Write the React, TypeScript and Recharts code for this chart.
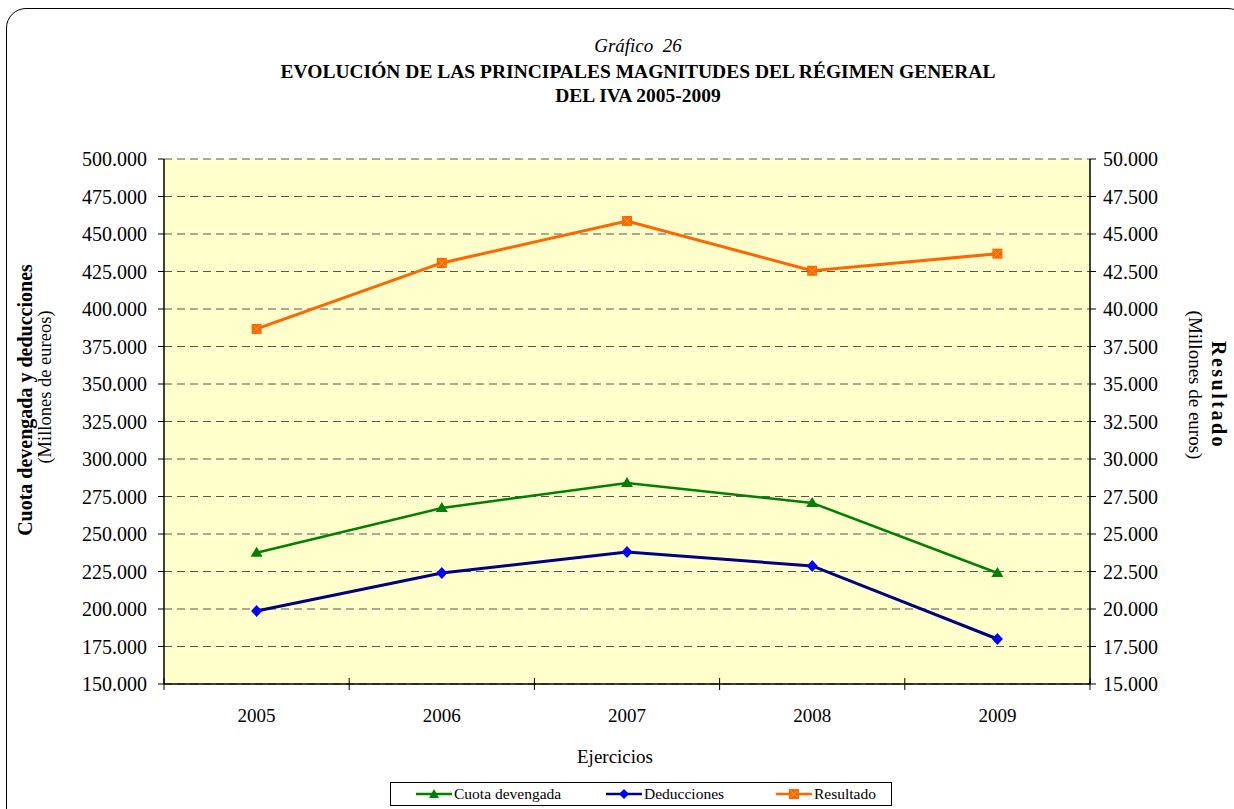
import { ComposedChart, Line, XAxis, YAxis, CartesianGrid } from 'recharts';

const years = ['2005', '2006', '2007', '2008', '2009'];
const cuotaDevengada = [237500, 267300, 284000, 270700, 224000];
const deducciones = [198700, 224000, 238000, 228700, 180000];
const resultado = [38670, 43070, 45870, 42550, 43690];

const leftTicks = [150000, 175000, 200000, 225000, 250000, 275000, 300000, 325000, 350000, 375000, 400000, 425000, 450000, 475000, 500000];
const rightTicks = [15000, 17500, 20000, 22500, 25000, 27500, 30000, 32500, 35000, 37500, 40000, 42500, 45000, 47500, 50000];

const data = years.map((y, i) => ({
  year: y,
  cuota: cuotaDevengada[i],
  deduc: deducciones[i],
  res: resultado[i],
}));

const SERIF = "'Liberation Serif', 'Times New Roman', Times, 'DejaVu Serif', serif";
const fmt = (v: number) => String(v).replace(/\B(?=(\d{3})+(?!\d))/g, '.');
const HALF_BAND = (1090 - 164) / 10;

function Triangle({ cx, cy }: any) {
  if (cx == null || cy == null) return null;
  return <path d={`M${cx},${cy - 6} L${cx + 6},${cy + 4} L${cx - 6},${cy + 4} Z`} fill="#008000" />;
}

function Diamond({ cx, cy }: any) {
  if (cx == null || cy == null) return null;
  return <path d={`M${cx},${cy - 6} L${cx + 5.5},${cy} L${cx},${cy + 6} L${cx - 5.5},${cy} Z`} fill="#0000FF" />;
}

function Square({ cx, cy }: any) {
  if (cx == null || cy == null) return null;
  return (
    <g>
      <rect x={cx - 5} y={cy - 5} width={10} height={10} fill="#FF6600" />
      <path d={`M${cx - 3.5},${cy - 3.5} L${cx + 3.5},${cy + 3.5} M${cx + 3.5},${cy - 3.5} L${cx - 3.5},${cy + 3.5}`} stroke="#FFA020" strokeWidth={1} />
    </g>
  );
}

function YearTick({ x, y, payload, index }: any) {
  const last = index === years.length - 1;
  return (
    <g>
      <line x1={x - HALF_BAND} x2={x - HALF_BAND} y1={y - 6} y2={y + 6} stroke="#000" strokeWidth={1} />
      {last && <line x1={x + HALF_BAND} x2={x + HALF_BAND} y1={y - 6} y2={y + 6} stroke="#000" strokeWidth={1} />}
      <text x={x} y={y + 38} textAnchor="middle" fontFamily={SERIF} fontSize={19} fill="#000">
        {payload.value}
      </text>
    </g>
  );
}

function LegendIcon({ kind, color, line }: { kind: string; color: string; line: string }) {
  return (
    <svg width={36} height={12} style={{ marginRight: 2 }}>
      <line x1={0} x2={36} y1={6} y2={6} stroke={line} strokeWidth={2.5} />
      {kind === 'tri' && <path d="M18,1 L23,10 L13,10 Z" fill={color} />}
      {kind === 'dia' && <path d="M18,1 L23,6 L18,11 L13,6 Z" fill={color} />}
      {kind === 'sq' && (
        <g>
          <rect x={13} y={1} width={10} height={10} fill={color} />
          <path d="M15,3 L21,9 M21,3 L15,9" stroke="#FFA020" strokeWidth={1} />
        </g>
      )}
    </svg>
  );
}

export default function App() {
  return (
    <div style={{ position: 'fixed', left: 0, top: 0, width: 1234, height: 809, overflow: 'hidden', background: '#fff', fontFamily: SERIF }}>
      <div style={{ position: 'absolute', left: 6, top: 8, width: 1240, height: 840, border: '1px solid #000', borderRadius: 20 }} />

      <div style={{ position: 'absolute', left: 0, width: 1276, top: 35, textAlign: 'center', fontSize: 19, fontStyle: 'italic' }}>Gráfico&nbsp; 26</div>
      <div style={{ position: 'absolute', left: 0, width: 1276, top: 60, textAlign: 'center', fontSize: 19.5, fontWeight: 'bold', lineHeight: '24px' }}>
        EVOLUCIÓN DE LAS PRINCIPALES MAGNITUDES DEL RÉGIMEN GENERAL
        <br />
        DEL IVA 2005-2009
      </div>

      <div style={{ position: 'absolute', left: 0, top: 0 }}>
        <ComposedChart width={1234} height={809} data={data} margin={{ top: 159, right: 0, bottom: 0, left: 0 }}>
          <CartesianGrid yAxisId="l" vertical={false} stroke="#555" strokeDasharray="8 5" fill="#FFFFCC" fillOpacity={1} />
          <XAxis
            dataKey="year"
            height={125}
            padding={{ left: HALF_BAND, right: HALF_BAND }}
            tickLine={false}
            tickSize={0}
            tickMargin={0}
            axisLine={{ stroke: '#000', strokeWidth: 1.5 }}
            tick={<YearTick />}
            interval={0}
          />
          <YAxis
            yAxisId="l"
            width={164}
            domain={[150000, 500000]}
            ticks={leftTicks}
            interval={0}
            tickFormatter={fmt}
            tickSize={6}
            tickMargin={11}
            axisLine={{ stroke: '#000', strokeWidth: 1.5 }}
            tickLine={{ stroke: '#000' }}
            tick={{ fill: '#000', fontSize: 20, fontFamily: SERIF }}
          />
          <YAxis
            yAxisId="r"
            orientation="right"
            width={144}
            domain={[15000, 50000]}
            ticks={rightTicks}
            interval={0}
            tickFormatter={fmt}
            tickSize={6}
            tickMargin={7}
            axisLine={{ stroke: '#000', strokeWidth: 1.5 }}
            tickLine={{ stroke: '#000' }}
            tick={{ fill: '#000', fontSize: 20, fontFamily: SERIF }}
          />
          <Line yAxisId="l" dataKey="cuota" stroke="#008000" strokeWidth={2.5} dot={<Triangle />} activeDot={false} isAnimationActive={false} />
          <Line yAxisId="l" dataKey="deduc" stroke="#000080" strokeWidth={3} dot={<Diamond />} activeDot={false} isAnimationActive={false} />
          <Line yAxisId="r" dataKey="res" stroke="#FF6600" strokeWidth={3} dot={<Square />} activeDot={false} isAnimationActive={false} />
        </ComposedChart>
      </div>

      <div style={{ position: 'absolute', left: 25, top: 400, transform: 'translate(-50%, -50%) rotate(-90deg)', whiteSpace: 'nowrap', fontSize: 20, fontWeight: 'bold' }}>
        Cuota devengada y deducciones
      </div>
      <div style={{ position: 'absolute', left: 45, top: 387, transform: 'translate(-50%, -50%) rotate(-90deg)', whiteSpace: 'nowrap', fontSize: 18.5 }}>
        (Millones de eureos)
      </div>
      <div style={{ position: 'absolute', left: 1218, top: 395, transform: 'translate(-50%, -50%) rotate(90deg)', whiteSpace: 'nowrap', fontSize: 20, fontWeight: 'bold', letterSpacing: 2.5 }}>
        Resultado
      </div>
      <div style={{ position: 'absolute', left: 1195, top: 385, transform: 'translate(-50%, -50%) rotate(90deg)', whiteSpace: 'nowrap', fontSize: 19 }}>
        (Millones de euros)
      </div>

      <div style={{ position: 'absolute', left: 0, width: 1234, top: 746, textAlign: 'center', paddingLeft: 0, fontSize: 19 }}>
        <span style={{ position: 'relative', left: -2 }}>Ejercicios</span>
      </div>

      <div style={{ position: 'absolute', left: 390, top: 782, width: 500, height: 22, border: '1px solid #000', display: 'flex', alignItems: 'center', fontSize: 15.5, boxSizing: 'content-box' }}>
        <div style={{ display: 'flex', alignItems: 'center', marginLeft: 25, width: 190 }}>
          <LegendIcon kind="tri" color="#008000" line="#008000" />
          Cuota devengada
        </div>
        <div style={{ display: 'flex', alignItems: 'center', width: 170 }}>
          <LegendIcon kind="dia" color="#0000FF" line="#000080" />
          Deducciones
        </div>
        <div style={{ display: 'flex', alignItems: 'center' }}>
          <LegendIcon kind="sq" color="#FF6600" line="#FF6600" />
          Resultado
        </div>
      </div>
    </div>
  );
}
